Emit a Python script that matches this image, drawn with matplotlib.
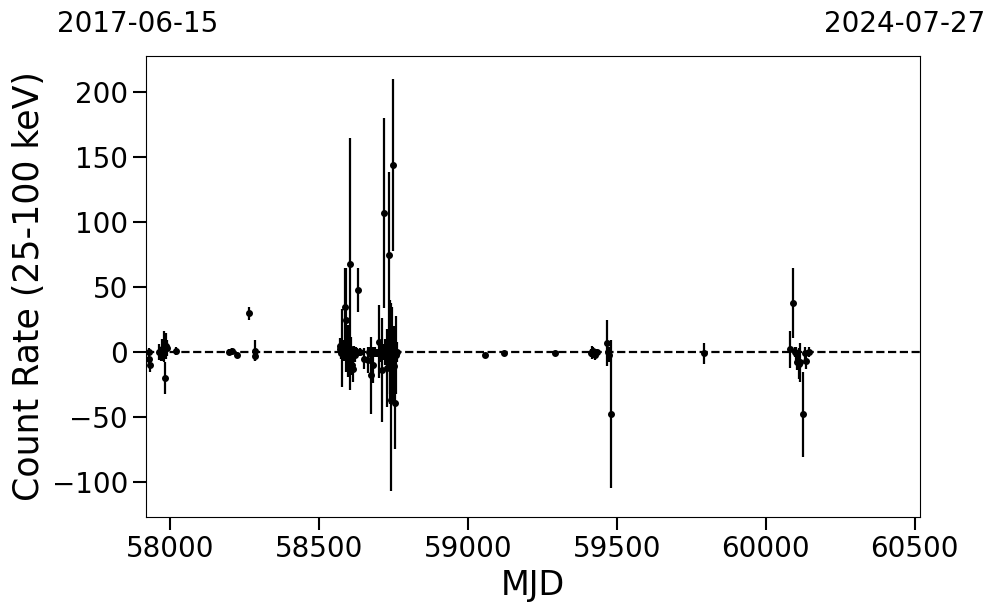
import matplotlib
matplotlib.use("Agg")
import matplotlib.pyplot as plt
import numpy as np

# ---- data ----
mjd = [
    57929, 57930, 57931,
    57963, 57970, 57973, 57977, 57980, 57983, 57987, 57990, 58020,
    58198, 58208, 58225, 58265, 58285, 58286,
    58570, 58572, 58574, 58577, 58579, 58581, 58584, 58588, 58589, 58592,
    58594, 58597, 58603, 58604, 58607, 58611, 58614, 58632, 58619, 58621,
    58624, 58628, 58638, 58651, 58664, 58669, 58675, 58681, 58688, 58695,
    58701, 58705, 58710, 58714, 58717, 58722, 58736, 58727, 58730, 58738,
    58738, 58741, 58743, 58745, 58749, 58751, 58753, 58755, 58758, 58761,
    59059, 59120, 59291,
    59414, 59418, 59421, 59427, 59434,
    59468, 59471, 59475, 59479,
    59794,
    60082, 60093, 60099, 60102, 60106, 60110, 60116, 60126, 60131, 60135, 60145,
]
rate = [
    0, -5, -10,
    0, -3, 2, -2, 4, -20, 5, 3, 1,
    0, 1, -2, 30, 1, -3,
    5, 2, -1, 3, 1, 0, -1, 35, 2, 25,
    -2, 1, 68, 0, 2, -10, -13, 48, 0, -2,
    0, 0, 0, -5, -6, 0, -18, -10, 0, -1,
    8, 0, -14, 0, 107, 0, 75, -12, 0, -7,
    0, -37, 8, 0, 144, -11, 0, -39, -2, 0,
    -2.5, -1, -1,
    -1, 0, 1, -2, 0,
    7, 0, -2, -48,
    -1,
    2, 38, 0, -1, -8, -9, -8, -48, -1, -7, 0,
]
err = [
    3, 4, 5,
    6, 4, 8, 5, 12, 12, 10, 6, 3,
    2, 2, 2, 5, 8, 4,
    6, 5, 4, 30, 8, 4, 6, 30, 5, 40,
    6, 20, 97, 5, 10, 8, 10, 17, 5, 6,
    4, 3, 3, 8, 10, 4, 30, 14, 4, 3,
    28, 8, 40, 6, 73, 10, 64, 30, 12, 25,
    40, 70, 30, 35, 66, 25, 20, 36, 30, 8,
    2, 2, 1,
    3, 5, 3, 4, 2,
    18, 4, 6, 57,
    8,
    14, 27, 4, 5, 6, 12, 15, 33, 5, 6, 4,
]

xlim = (57919, 60518)
ylim = (-127, 228)
date_left = "2017-06-15"
date_right = "2024-07-27"

fig = plt.figure(figsize=(9.97, 6.13), dpi=100)
ax = fig.add_axes([0.1464, 0.1566, 0.7764, 0.752])

ax.errorbar(mjd, rate, yerr=err, fmt='o', color='black', markersize=4,
            elinewidth=1.6, capsize=0, zorder=3)
ax.axhline(0, color='black', linestyle='--', linewidth=1.6, zorder=2)

ax.set_xlim(*xlim)
ax.set_ylim(*ylim)
ax.set_xticks([58000, 58500, 59000, 59500, 60000, 60500])
ax.set_yticks([-100, -50, 0, 50, 100, 150, 200])
ax.tick_params(axis='both', labelsize=20, length=9.5, width=1.5)
ax.set_xlabel("MJD", fontsize=24)
ax.set_ylabel("Count Rate (25-100 keV)", fontsize=25)
for s in ax.spines.values():
    s.set_linewidth(0.8)

fig.text(57 / 997, 1 - 32 / 613, date_left, fontsize=20, ha='left', va='baseline')
fig.text(985 / 997, 1 - 32 / 613, date_right, fontsize=20, ha='right', va='baseline')

fig.savefig("out.png", dpi=100)
